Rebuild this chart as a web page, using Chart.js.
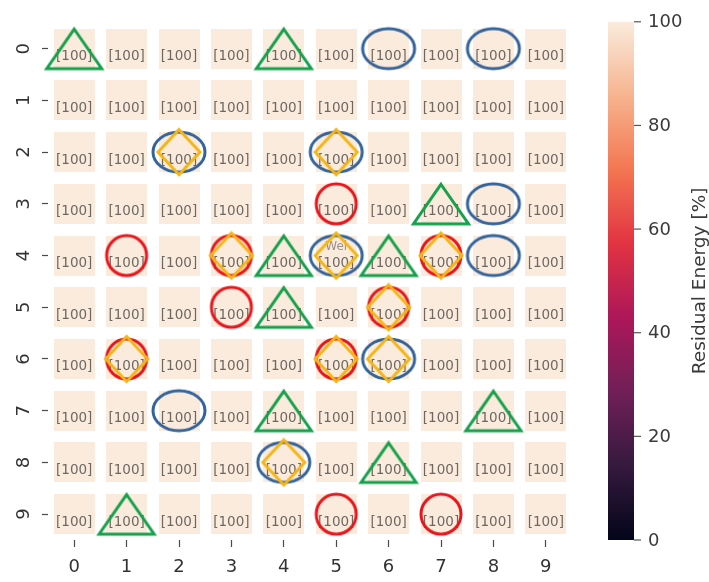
<!DOCTYPE html>
<html><head><meta charset="utf-8">
<script src="https://cdn.jsdelivr.net/npm/chart.js@4"></script>
<style>html,body{margin:0;padding:0;background:#fff}#wrap{width:709px;height:582px}</style>
</head><body><div id="wrap"><canvas id="c" width="709" height="582"></canvas></div>
<script>
// ---- data ----
const xLabels = ['0','1','2','3','4','5','6','7','8','9'];
const yLabels = ['0','1','2','3','4','5','6','7','8','9'];
const energy = [
  [100,100,100,100,100,100,100,100,100,100],
  [100,100,100,100,100,100,100,100,100,100],
  [100,100,100,100,100,100,100,100,100,100],
  [100,100,100,100,100,100,100,100,100,100],
  [100,100,100,100,100,100,100,100,100,100],
  [100,100,100,100,100,100,100,100,100,100],
  [100,100,100,100,100,100,100,100,100,100],
  [100,100,100,100,100,100,100,100,100,100],
  [100,100,100,100,100,100,100,100,100,100],
  [100,100,100,100,100,100,100,100,100,100]
];
// markers as [row, col]
const triangles = [[0,0],[0,4],[3,7],[4,4],[4,6],[5,4],[7,4],[7,8],[8,6],[9,1]];
const ellipses  = [[0,6],[0,8],[2,2],[2,5],[3,8],[4,5],[4,8],[6,6],[7,2],[8,4]];
const circles   = [[3,5],[4,1],[4,3],[4,7],[5,3],[5,6],[6,1],[6,5],[9,5],[9,7]];
const diamonds  = [[2,2],[2,5],[4,3],[4,5],[4,7],[5,6],[6,1],[6,5],[6,6],[8,4]];
const notes = [{row:4, col:5, text:'Wel'}];
const cbTicks = [0,20,40,60,80,100];
const cbMin = 0, cbMax = 100;
const cbTitle = 'Residual Energy [%]';

// ---- styles ----
const FONT = '"DejaVu Sans", "Liberation Sans", sans-serif';
const rocket = [[0,'#03051a'],[1/7,'#35193e'],[2/7,'#701f57'],[3/7,'#ad1759'],[4/7,'#e13342'],[5/7,'#f37651'],[6/7,'#f6b48f'],[1,'#faebdd']];
function hex2rgb(h){return [parseInt(h.substr(1,2),16),parseInt(h.substr(3,2),16),parseInt(h.substr(5,2),16)];}
function cmap(t){
  t = Math.max(0, Math.min(1, t));
  for (let i=1;i<rocket.length;i++){
    if (t <= rocket[i][0]) {
      const a = rocket[i-1], b = rocket[i];
      const f = (t - a[0])/(b[0]-a[0]);
      const ca = hex2rgb(a[1]), cb = hex2rgb(b[1]);
      return 'rgb(' + ca.map((v,k)=>Math.round(v+(cb[k]-v)*f)).join(',') + ')';
    }
  }
  return rocket[rocket.length-1][1];
}
function makeCanvas(w,h,draw){const c=document.createElement('canvas');c.width=w;c.height=h;const g=c.getContext('2d');draw(g,w,h);return c;}
const cellCache = {};
function cellImage(color){
  if (!cellCache[color]) cellCache[color] = makeCanvas(41,40,(g,w,h)=>{g.fillStyle=color;g.fillRect(0,0,w,h);});
  return cellCache[color];
}
const LW = 3;
const triImg = makeCanvas(64,52,(g,w,h)=>{g.strokeStyle='#15a04a';g.lineWidth=LW;g.lineJoin='miter';g.beginPath();
  g.moveTo(w/2, h/2-19.5); g.lineTo(w/2+27.5, h/2+20); g.lineTo(w/2-27.5, h/2+20); g.closePath(); g.stroke();});
const ellImg = makeCanvas(60,48,(g,w,h)=>{g.strokeStyle='#33639a';g.lineWidth=LW;g.beginPath();g.ellipse(w/2,h/2,26,20,0,0,Math.PI*2);g.stroke();});
const cirImg = makeCanvas(48,48,(g,w,h)=>{g.strokeStyle='#e8161c';g.lineWidth=LW;g.beginPath();g.arc(w/2,h/2,20,0,Math.PI*2);g.stroke();});
const diaImg = makeCanvas(52,56,(g,w,h)=>{g.strokeStyle='#f5b516';g.lineWidth=LW;g.lineJoin='miter';g.beginPath();
  g.moveTo(w/2,h/2-22.5);g.lineTo(w/2+21,h/2);g.lineTo(w/2,h/2+22.5);g.lineTo(w/2-21,h/2);g.closePath();g.stroke();});

const cellData = [];
energy.forEach((row,r)=>row.forEach((v,c)=>cellData.push({x:c,y:r,v:v})));
const toPts = arr => arr.map(([r,c])=>({x:c,y:r}));

const cellTextPlugin = {
  id:'cellText',
  afterDatasetDraw(chart, args){
    if (args.index !== 0) return;
    const {ctx, scales:{x, y}} = chart;
    ctx.save();
    ctx.textAlign='center'; ctx.textBaseline='middle';
    ctx.font = '13.5px ' + FONT; ctx.fillStyle = '#6e6863';
    energy.forEach((row,r)=>row.forEach((v,c)=>{
      ctx.fillText('[' + v + ']', x.getPixelForValue(c), y.getPixelForValue(r) + 8);
    }));
    ctx.font = '12px ' + FONT; ctx.fillStyle = 'rgba(120,114,108,0.75)';
    notes.forEach(n=>ctx.fillText(n.text, x.getPixelForValue(n.col), y.getPixelForValue(n.row) - 9));
    ctx.restore();
  }
};

const colorbarPlugin = {
  id:'colorbar',
  afterDraw(chart){
    const {ctx, chartArea:a} = chart;
    const left = a.right + 36, width = 26, top = a.top - 1, bottom = a.bottom;
    ctx.save();
    const hgt = bottom - top;
    const grad = ctx.createLinearGradient(0, bottom, 0, top);
    for (let i=0;i<=64;i++){ grad.addColorStop(i/64, cmap(i/64)); }
    ctx.fillStyle = grad;
    ctx.fillRect(left, top, width, hgt);
    ctx.strokeStyle = '#555'; ctx.lineWidth = 1.2;
    ctx.fillStyle = '#3a3a3a'; ctx.font = '18px ' + FONT;
    ctx.textAlign='left'; ctx.textBaseline='middle';
    cbTicks.forEach(v=>{
      const y = bottom - (v-cbMin)/(cbMax-cbMin)*hgt;
      ctx.beginPath(); ctx.moveTo(left+width, y); ctx.lineTo(left+width+7, y); ctx.stroke();
      ctx.fillText(String(v), left+width+14, y + 1);
    });
    ctx.translate(left + width + 66, (top+bottom)/2);
    ctx.rotate(-Math.PI/2);
    ctx.textAlign='center';
    ctx.font = '18.5px ' + FONT; ctx.fillStyle = '#3a3a3a';
    ctx.fillText(cbTitle, 0, 0);
    ctx.restore();
  }
};

const axisCommon = {
  type:'linear', min:-0.5, max:9.5,
  border:{display:false},
  grid:{drawOnChartArea:false, drawTicks:true, tickLength:6, tickColor:'#4a4a4a', tickWidth:1.2},
};

new Chart(document.getElementById('c'), {
  type:'scatter',
  data:{ datasets:[
    {label:'cells', data:cellData, order:5, clip:false, pointRadius:20, pointStyle:(ctx)=>cellImage(cmap((ctx.raw.v-cbMin)/(cbMax-cbMin)))},
    {label:'triangles', data:toPts(triangles), order:4, clip:false, pointRadius:20, pointStyle:triImg},
    {label:'ellipses', data:toPts(ellipses), order:3, clip:false, pointRadius:20, pointStyle:ellImg},
    {label:'circles', data:toPts(circles), order:2, clip:false, pointRadius:20, pointStyle:cirImg},
    {label:'diamonds', data:toPts(diamonds), order:1, clip:false, pointRadius:20, pointStyle:diaImg}
  ]},
  options:{
    responsive:false, animation:false, devicePixelRatio:1,
    layout:{padding:{top:16, right:137, left:0, bottom:0}},
    plugins:{legend:{display:false}, tooltip:{enabled:false}},
    scales:{
      x:Object.assign({}, axisCommon, {
        position:'bottom',
        grid:Object.assign({}, axisCommon.grid, {tickLength:7}),
        afterBuildTicks:(s)=>{s.ticks = xLabels.map((_,i)=>({value:i}));},
        afterFit:(s)=>{s.height = 42;},
        ticks:{autoSkip:false, maxRotation:0, minRotation:0, padding:10, color:'#333', font:{family:FONT, size:18},
          callback:(v)=>xLabels[v]}
      }),
      y:Object.assign({}, axisCommon, {
        position:'left', reverse:true,
        afterBuildTicks:(s)=>{s.ticks = yLabels.map((_,i)=>({value:i}));},
        afterFit:(s)=>{s.width = 48;},
        ticks:{autoSkip:false, minRotation:90, maxRotation:90, crossAlign:'center', padding:12, color:'#333', font:{family:FONT, size:18},
          callback:(v)=>yLabels[v]}
      })
    }
  },
  plugins:[cellTextPlugin, colorbarPlugin]
});
</script>
</body></html>
